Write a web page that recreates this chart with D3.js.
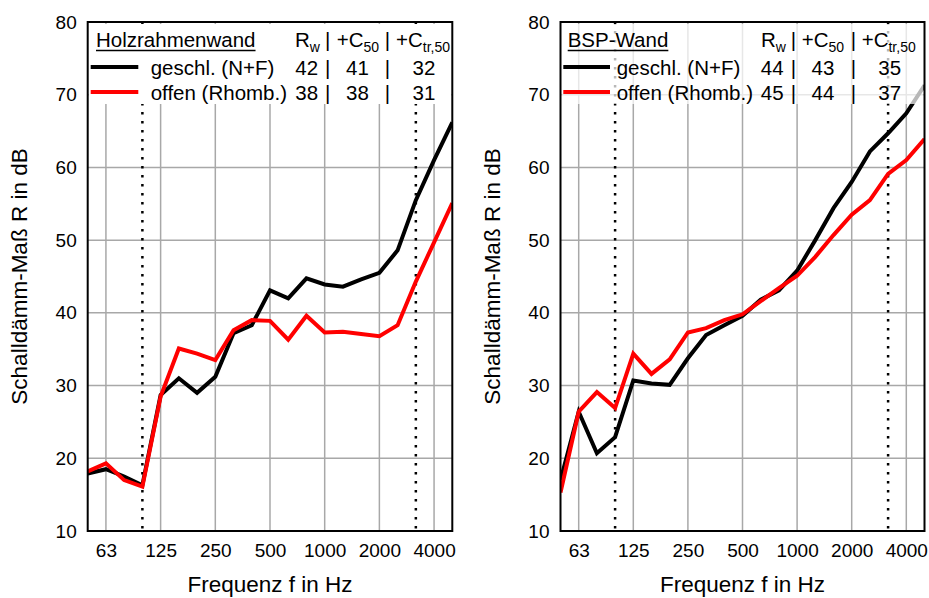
<!DOCTYPE html>
<html>
<head>
<meta charset="utf-8">
<script src="https://cdn.jsdelivr.net/npm/d3@7"></script>
<style>
  html, body { margin: 0; padding: 0; background: #fff; }
  svg { display: block; font-family: "Liberation Sans", Arial, sans-serif; }
</style>
</head>
<body>
<svg id="chart" width="929" height="598"></svg>
<script>
// ---------- data ----------
const freqs = [50, 63, 80, 100, 125, 160, 200, 250, 315, 400, 500, 630, 800, 1000, 1250, 1600, 2000, 2500, 3150, 4000, 5000];
const xTickLabels = [63, 125, 250, 500, 1000, 2000, 4000];
const markerFreqs = [100, 3150];
const yTicks = [10, 20, 30, 40, 50, 60, 70, 80];

const seriesNames = ["geschl. (N+F)", "offen (Rhomb.)"];
const seriesColors = ["#000000", "#ff0000"];

const holzGeschl = [17.9, 18.5, 17.5, 16.3, 28.7, 31.0, 29.0, 31.2, 37.2, 38.3, 43.1, 42.0, 44.75, 43.9, 43.6, 44.6, 45.5, 48.6, 55.5, 61.0, 66.2];
const holzOffen  = [18.2, 19.3, 17.0, 16.1, 28.5, 35.1, 34.4, 33.5, 37.6, 39.0, 38.9, 36.3, 39.6, 37.3, 37.4, 37.1, 36.8, 38.3, 44.3, 49.7, 55.1];
const bspGeschl  = [17.0, 26.4, 20.7, 22.9, 30.7, 30.3, 30.1, 33.75, 36.95, 38.3, 39.6, 41.8, 43.1, 45.8, 50.0, 54.4, 58.0, 62.2, 64.7, 67.45, 71.3];
const bspOffen   = [15.3, 26.4, 29.1, 26.9, 34.4, 31.6, 33.6, 37.3, 37.9, 39.0, 39.8, 41.6, 43.4, 45.1, 47.7, 50.7, 53.5, 55.5, 59.1, 61.0, 63.9];

const holzRatings = [[42, 41, 32], [38, 38, 31]];
const bspRatings  = [[44, 43, 35], [45, 44, 37]];

const panelTitles = ["Holzrahmenwand", "BSP-Wand"];
const xTitle = "Frequenz f in Hz";
const yTitle = "Schalldämm-Maß R in dB";

// ---------- layout ----------
const plotTop = 22, plotBottom = 531;
const panels = [
  { left: 87.7, right: 452.3, title: panelTitles[0], series: [holzGeschl, holzOffen], ratings: holzRatings,
    lg: { titleX: 8.3, lineX1: 3, lineX2: 50.6, textX: 63, sep: [240, 299.6], rX: 207.3, c50X: 249, ctrX: 308.3, num: [219, 269.8, 336.3] }, boxOpacity: 1 },
  { left: 560.5, right: 924.5, title: panelTitles[1], series: [bspGeschl, bspOffen], ratings: bspRatings,
    lg: { titleX: 7.2, lineX1: 2.8, lineX2: 49.5, textX: 56.2, sep: [232.8, 292.8], rX: 200.5, c50X: 241.2, ctrX: 301.2, num: [211.7, 262.5, 329.2] }, boxOpacity: 0.72 }
];

const svg = d3.select("#chart");
const y = d3.scaleLinear().domain([10, 80]).range([plotBottom, plotTop]);

panels.forEach((p, pi) => {
  const x = d3.scalePoint().domain(freqs).range([p.left, p.right]);
  const g = svg.append("g");

  // grid
  g.append("g").selectAll("line").data(yTicks.slice(1, -1)).join("line")
    .attr("x1", p.left).attr("x2", p.right).attr("y1", d => y(d)).attr("y2", d => y(d))
    .attr("stroke", "#a8a8a8").attr("stroke-width", 1.5);
  g.append("g").selectAll("line").data(xTickLabels).join("line")
    .attr("x1", d => x(d)).attr("x2", d => x(d)).attr("y1", plotTop).attr("y2", plotBottom)
    .attr("stroke", "#a8a8a8").attr("stroke-width", 1.5);

  // dotted markers
  g.append("g").selectAll("line").data(markerFreqs).join("line")
    .attr("x1", d => x(d)).attr("x2", d => x(d)).attr("y1", plotTop).attr("y2", plotBottom)
    .attr("stroke", "#000").attr("stroke-width", 2.5).attr("stroke-dasharray", "2.5,6.5");

  // clip
  const clipId = "clip" + pi;
  svg.append("clipPath").attr("id", clipId).append("rect")
    .attr("x", p.left).attr("y", plotTop).attr("width", p.right - p.left).attr("height", plotBottom - plotTop);

  const line = d3.line().x((d, i) => x(freqs[i])).y(d => y(d));
  p.series.forEach((s, si) => {
    g.append("path").datum(s).attr("d", line)
      .attr("fill", "none").attr("stroke", seriesColors[si]).attr("stroke-width", 4)
      .attr("stroke-linejoin", "miter").attr("clip-path", `url(#${clipId})`);
  });

  // legend box
  g.append("rect").attr("x", p.left + 1).attr("y", plotTop + 2).attr("width", p.right - p.left - 2).attr("height", 104 - plotTop - 2)
    .attr("fill", "#fff").attr("fill-opacity", p.boxOpacity);

  // frame
  g.append("rect").attr("x", p.left).attr("y", plotTop).attr("width", p.right - p.left).attr("height", plotBottom - plotTop)
    .attr("fill", "none").attr("stroke", "#000").attr("stroke-width", 2);

  // axes
  const yAxis = g.append("g").attr("transform", `translate(${p.left},0)`)
    .call(d3.axisLeft(y).tickValues(yTicks).tickSize(0).tickPadding(11));
  yAxis.select(".domain").remove();
  yAxis.selectAll("text").attr("font-size", 19).attr("fill", "#000").attr("font-family", "Liberation Sans, Arial, sans-serif");

  const xAxis = g.append("g").attr("transform", `translate(0,${plotBottom})`)
    .call(d3.axisBottom(x).tickValues(xTickLabels).tickSize(0).tickPadding(13));
  xAxis.select(".domain").remove();
  xAxis.selectAll("text").attr("font-size", 19).attr("fill", "#000").attr("font-family", "Liberation Sans, Arial, sans-serif");

  // axis titles
  g.append("text").attr("x", (p.left + p.right) / 2).attr("y", 592).attr("text-anchor", "middle")
    .attr("font-size", 22.5).text(xTitle);
  g.append("text").attr("transform", `translate(${p.left - 60.5},${(plotTop + plotBottom) / 2}) rotate(-90)`)
    .attr("text-anchor", "middle").attr("font-size", 22.5).text(yTitle);

  // legend
  const L = p.lg, fs = 20.5;
  const t = g.append("text").attr("x", p.left + L.titleX).attr("y", 47).attr("font-size", fs).text(p.title);
  const tw = t.node().getComputedTextLength();
  g.append("line").attr("x1", p.left + L.titleX).attr("x2", p.left + L.titleX + tw)
    .attr("y1", 50.5).attr("y2", 50.5).attr("stroke", "#000").attr("stroke-width", 1.6);

  const hdr = (xx, main, sub) => {
    const tt = g.append("text").attr("x", p.left + xx).attr("y", 47).attr("font-size", fs);
    tt.append("tspan").text(main);
    tt.append("tspan").attr("font-size", 14).attr("dy", 5).text(sub);
  };
  hdr(L.rX, "R", "w");
  hdr(L.c50X, "+C", "50");
  hdr(L.ctrX, "+C", "tr,50");

  const rowsY = [75, 100];
  L.sep.forEach(sx => {
    [47].concat(rowsY).forEach(ry => {
      g.append("text").attr("x", p.left + sx).attr("y", ry).attr("text-anchor", "middle").attr("font-size", fs).text("|");
    });
  });

  seriesNames.forEach((name, si) => {
    const ry = rowsY[si];
    g.append("line").attr("x1", p.left + L.lineX1).attr("x2", p.left + L.lineX2)
      .attr("y1", ry - 8).attr("y2", ry - 8).attr("stroke", seriesColors[si]).attr("stroke-width", 4);
    g.append("text").attr("x", p.left + L.textX).attr("y", ry).attr("font-size", fs).text(name);
    p.ratings[si].forEach((v, ci) => {
      g.append("text").attr("x", p.left + L.num[ci]).attr("y", ry).attr("text-anchor", "middle").attr("font-size", fs).text(v);
    });
  });
});
</script>
</body>
</html>
